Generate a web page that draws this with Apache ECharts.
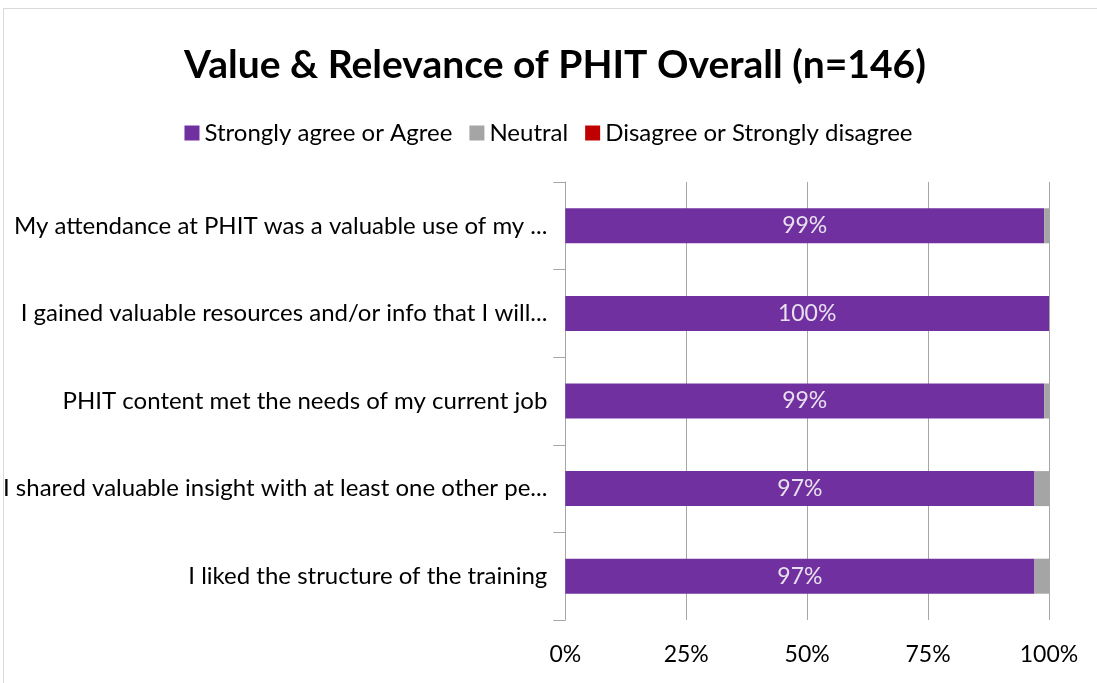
<!DOCTYPE html>
<html>
<head>
<meta charset="utf-8">
<script src="https://cdn.jsdelivr.net/npm/echarts@6/dist/echarts.min.js"></script>
<style>
  html, body { margin: 0; padding: 0; background: #fff; }
  #chart { width: 1097px; height: 683px; }
  .frame { position: absolute; left: 3px; top: 8px; width: 1100px; height: 680px; border: 1px solid #d9d9d9; box-sizing: border-box; pointer-events: none; }
</style>
</head>
<body>
<div id="chart"></div>
<div class="frame"></div>
<script>
// categories, top to bottom
var categories = [
  'My attendance at PHIT was a valuable use of my ...',
  'I gained valuable resources and/or info that I will...',
  'PHIT content met the needs of my current job',
  'I shared valuable insight with at least one other pe...',
  'I liked the structure of the training'
];
var agree = [99, 100, 99, 97, 97];
var neutral = [1, 0, 1, 3, 3];
var disagree = [0, 0, 0, 0, 0];
var xTicks = [0, 25, 50, 75, 100];

var colors = ['#7030A0', '#A5A5A5', '#C00000'];
var font = 'Lato, "Open Sans", sans-serif';

var chart = echarts.init(document.getElementById('chart'));

var option = {
    color: colors,
    animation: false,
    title: {
        text: 'Value & Relevance of PHIT Overall (n=146)',
        left: 550,
        textAlign: 'center',
        top: 41,
        textStyle: { fontFamily: font, fontSize: 39, fontWeight: 'bold', color: '#000' }
    },
    legend: {
        top: 116,
        left: 'center',
        itemWidth: 15,
        itemHeight: 15,
        itemGap: 17,
        icon: 'rect',
        textStyle: { fontFamily: font, fontSize: 24, color: '#000' },
        data: ['Strongly agree or Agree', 'Neutral', 'Disagree or Strongly disagree']
    },
    grid: {
        left: 564,
        right: 48,
        top: 182,
        bottom: 63,
        containLabel: false
    },
    xAxis: {
        type: 'value',
        min: 0,
        max: 100,
        interval: 25,
        axisLine: { show: false },
        axisTick: { show: false },
        splitLine: { lineStyle: { color: '#a6a6a6', width: 1 } },
        axisLabel: {
            fontFamily: font, fontSize: 23, color: '#000', margin: 23,
            formatter: function (v) { return xTicks.indexOf(v) >= 0 ? v + '%' : ''; }
        }
    },
    yAxis: {
        type: 'category',
        inverse: true,
        data: categories,
        axisLine: { show: true, lineStyle: { color: '#a6a6a6', width: 1 } },
        axisTick: { show: true, alignWithLabel: false, length: 12, lineStyle: { color: '#a6a6a6' } },
        axisLabel: { fontFamily: font, fontSize: 24, color: '#000', margin: 18 }
    },
    series: [
        {
            name: 'Strongly agree or Agree',
            type: 'bar',
            stack: 'total',
            barWidth: '40%',
            data: agree,
            label: {
                show: true,
                position: 'inside',
                formatter: '{c}%',
                fontFamily: font,
                fontSize: 23,
                color: '#e8e0ee'
            }
        },
        {
            name: 'Neutral',
            type: 'bar',
            stack: 'total',
            data: neutral
        },
        {
            name: 'Disagree or Strongly disagree',
            type: 'bar',
            stack: 'total',
            data: disagree
        }
    ]
};

chart.setOption(option);
</script>
</body>
</html>
